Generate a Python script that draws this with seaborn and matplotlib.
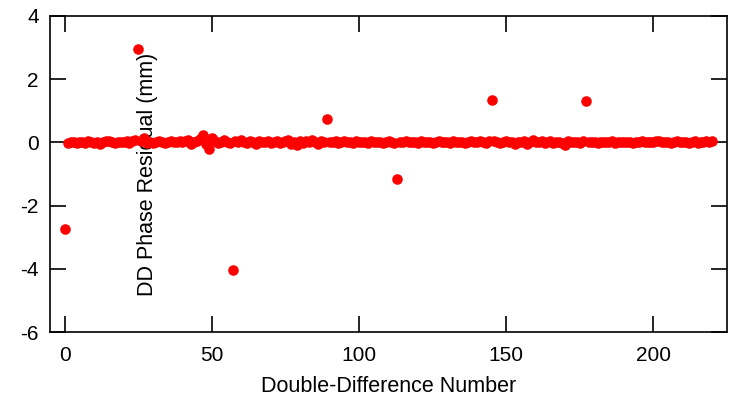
import numpy as np
import pandas as pd
import matplotlib
matplotlib.use("Agg")
import matplotlib.pyplot as plt
import seaborn as sns

# residual per double difference (mm), index = DD number 0..220
resid = [
    -2.75, -0.02, 0.00, 0.01, -0.03, 0.02, 0.00, -0.02, 0.03, 0.01,    # 0-9
    -0.01, 0.02, -0.04, 0.00, 0.03, 0.06, 0.00, -0.02, 0.01, 0.02,     # 10-19
    0.00, 0.03, -0.01, 0.04, 0.08, 2.95, 0.05, 0.15, -0.03, 0.00,      # 20-29
    -0.02, 0.01, 0.03, 0.00, -0.01, 0.02, 0.04, 0.01, 0.00, 0.03,      # 30-39
    0.02, 0.05, 0.08, -0.04, 0.01, 0.03, 0.10, 0.25, -0.05, -0.20,     # 40-49
    0.15, 0.04, -0.02, 0.00, 0.08, 0.02, -0.03, -4.05, 0.05, 0.01,     # 50-59
    0.07, 0.00, -0.02, 0.03, 0.01, -0.04, 0.05, 0.02, 0.00, 0.03,      # 60-69
    -0.01, 0.02, 0.04, -0.03, 0.00, 0.05, 0.08, -0.06, 0.02, -0.08,    # 70-79
    0.04, -0.03, 0.06, 0.02, 0.09, 0.00, -0.05, 0.03, 0.01, 0.75,      # 80-89
    0.02, 0.00, 0.03, -0.02, 0.01, 0.04, 0.00, 0.02, -0.01, 0.03,      # 90-99
    0.00, 0.02, 0.01, -0.02, 0.03, 0.00, 0.01, 0.02, -0.01, 0.00,      # 100-109
    0.03, 0.01, -0.03, -1.15, 0.02, 0.00, 0.04, 0.01, 0.00, 0.02,      # 110-119
    -0.01, 0.03, 0.00, 0.02, 0.01, -0.02, 0.00, 0.03, 0.01, 0.00,      # 120-129
    0.02, -0.01, 0.04, 0.00, 0.02, 0.01, -0.03, 0.00, 0.03, 0.02,      # 130-139
    0.00, 0.05, 0.01, -0.02, 0.03, 1.35, 0.04, 0.00, -0.02, 0.01,      # 140-149
    0.03, 0.00, 0.02, -0.04, 0.01, 0.00, 0.03, -0.05, 0.02, 0.08,      # 150-159
    0.01, 0.00, 0.03, -0.02, 0.01, 0.04, -0.03, 0.00, 0.02, -0.01,     # 160-169
    -0.08, 0.03, 0.00, 0.02, 0.01, -0.02, 0.03, 1.30, 0.00, 0.02,      # 170-179
    0.01, -0.01, 0.00, 0.02, 0.01, 0.00, 0.03, -0.01, 0.00, 0.02,      # 180-189
    0.01, 0.00, 0.02, -0.01, 0.01, 0.00, 0.03, 0.01, 0.00, 0.02,       # 190-199
    0.01, 0.03, 0.06, 0.00, 0.01, 0.02, -0.01, 0.00, 0.03, 0.01,       # 200-209
    0.00, 0.02, -0.02, 0.01, 0.03, -0.03, 0.00, 0.02, 0.04, 0.01, 0.03,  # 210-220
]
dd_num = list(range(len(resid)))

x_ticks = [0, 50, 100, 150, 200]
y_ticks = [-6, -4, -2, 0, 2, 4]

sns.set_style("ticks")
plt.rcParams['font.family'] = ['Liberation Sans', 'DejaVu Sans']
plt.rcParams['axes.unicode_minus'] = False
plt.rcParams['text.color'] = 'black'
plt.rcParams['axes.labelcolor'] = 'black'

df = pd.DataFrame({"dd": dd_num, "res": resid})

fig = plt.figure(figsize=(7.29, 3.97), dpi=100)
ax = fig.add_axes([0.0686, 0.1637, 0.9287, 0.796])
sns.scatterplot(data=df, x="dd", y="res", color="red", s=58, linewidth=0, ax=ax, zorder=2)

ax.set_xlim(-5, 225)
ax.set_ylim(-6, 4)
ax.set_xticks(x_ticks)
ax.set_yticks(y_ticks)
ax.tick_params(direction="in", length=11.5, width=1.2, labelsize=15, pad=8,
               top=True, right=True, colors="black")
ax.tick_params(axis="x", pad=10)
for sp in ax.spines.values():
    sp.set_visible(True)
    sp.set_linewidth(1.2)
    sp.set_color("black")

ax.set_xlabel("Double-Difference Number", fontsize=15.5, labelpad=8)
ax.set_ylabel("DD Phase Residual (mm)", fontsize=15.5)
ax.yaxis.set_label_coords(0.159, 0.5)
ax.yaxis.label.set_zorder(5)

fig.savefig("out.png", dpi=100)
